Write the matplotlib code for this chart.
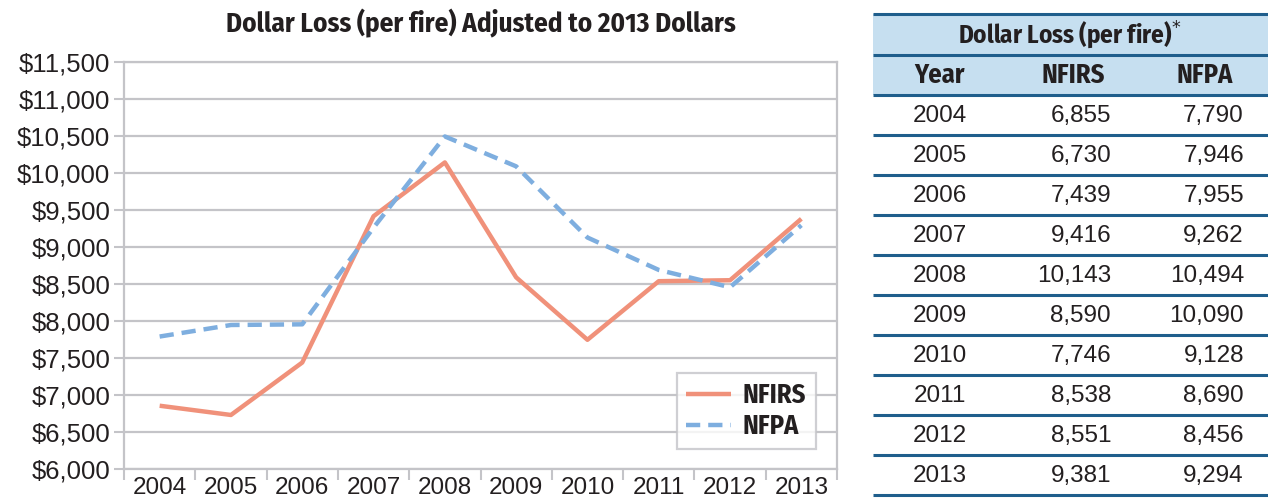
import matplotlib
matplotlib.use('Agg')
import matplotlib.pyplot as plt
import numpy as np
from matplotlib.ticker import FuncFormatter, FixedLocator

# data
years = [2004, 2005, 2006, 2007, 2008, 2009, 2010, 2011, 2012, 2013]
nfirs = [6855, 6730, 7439, 9416, 10143, 8590, 7746, 8538, 8551, 9381]
nfpa = [7790, 7946, 7955, 9262, 10494, 10090, 9128, 8690, 8456, 9294]

W, H = 1268, 500
C_NFIRS = '#f0917a'
C_NFPA = '#7eaedf'
GRID = '#c4c4c8'
NAVY = '#1f5e8c'
HEAD_BG = '#c6dff0'
TXT = '#231f20'
REG = 'Liberation Sans'
BOLD = 'Fira Sans Condensed'

plt.rcParams['font.family'] = [REG, 'DejaVu Sans']

fig = plt.figure(figsize=(W / 100, H / 100), dpi=100)

# --- line chart ---
ax = fig.add_axes([124 / W, (H - 469) / H, (837 - 124) / W, (469 - 62) / H])
x = np.arange(len(years))
ax.plot(x, nfirs, color=C_NFIRS, lw=3.2, label='NFIRS', solid_capstyle='butt')
ax.plot(x, nfpa, color=C_NFPA, lw=3.2, ls=(0, (3.2, 1.8)), label='NFPA')
ax.set_xlim(-0.5, len(years) - 0.5)
ax.set_ylim(6000, 11500)
ax.set_yticks(np.arange(6000, 11501, 500))
ax.yaxis.set_major_formatter(FuncFormatter(lambda v, p: f'${v:,.0f}'))
ax.set_xticks(x)
ax.set_xticklabels([str(y) for y in years])
ax.xaxis.set_minor_locator(FixedLocator(np.arange(-0.5, len(years), 1)))
ax.tick_params(axis='x', which='major', length=0, pad=6, labelsize=17.5, labelcolor=TXT)
ax.tick_params(axis='x', which='minor', length=8, width=1.5, color=GRID)
ax.tick_params(axis='y', length=7, width=1.5, color=GRID, labelsize=18.5, pad=3, labelcolor=TXT)
ax.grid(axis='y', color=GRID, lw=1.6)
ax.set_axisbelow(True)
for s in ax.spines.values():
    s.set_color(GRID)
    s.set_linewidth(1.6)
ax.set_title('Dollar Loss (per fire) Adjusted to 2013 Dollars', fontsize=19.5,
             fontweight='bold', family=BOLD, color=TXT, pad=21)
leg = ax.legend(loc='lower right', bbox_to_anchor=(0.97, 0.05), frameon=True, fancybox=False,
                handlelength=1.7, borderpad=0.35, labelspacing=0.15, handletextpad=0.45,
                borderaxespad=0, prop={'family': BOLD, 'weight': 'bold', 'size': 19})
leg.get_frame().set_edgecolor(GRID)
leg.get_frame().set_linewidth(1.6)
for t in leg.get_texts():
    t.set_color(TXT)

# --- table ---
tx0, tx1 = 873, 1268
tab = fig.add_axes([tx0 / W, 0, (tx1 - tx0) / W, 1])
tab.set_xlim(tx0, tx1)
tab.set_ylim(H, 0)
tab.axis('off')
tab.fill_between([tx0, tx1], 14, 95, color=HEAD_BG, lw=0)
tab.text(1070, 35, 'Dollar Loss (per fire)$^{*}$', ha='center', va='center', fontsize=18,
         fontweight='bold', family=BOLD, color=TXT)
for cx, lab in [(940, 'Year'), (1073, 'NFIRS'), (1205, 'NFPA')]:
    tab.text(cx, 75, lab, ha='center', va='center', fontsize=19, fontweight='bold',
             family=BOLD, color=TXT)
row_h = 40
for i, (yr, a, b) in enumerate(zip(years, nfirs, nfpa)):
    cy = 116 + i * row_h
    kw = dict(va='center', fontsize=17.5, family=REG, color=TXT)
    tab.text(940, cy, str(yr), ha='center', **kw)
    tab.text(1111, cy, f'{a:,}', ha='right', **kw)
    tab.text(1244, cy, f'{b:,}', ha='right', **kw)
for yl in [14, 55] + [95 + i * row_h for i in range(len(years) + 1)]:
    tab.plot([tx0, tx1], [yl, yl], color=NAVY, lw=2.2, solid_capstyle='butt')

fig.savefig('out.png', dpi=100)
